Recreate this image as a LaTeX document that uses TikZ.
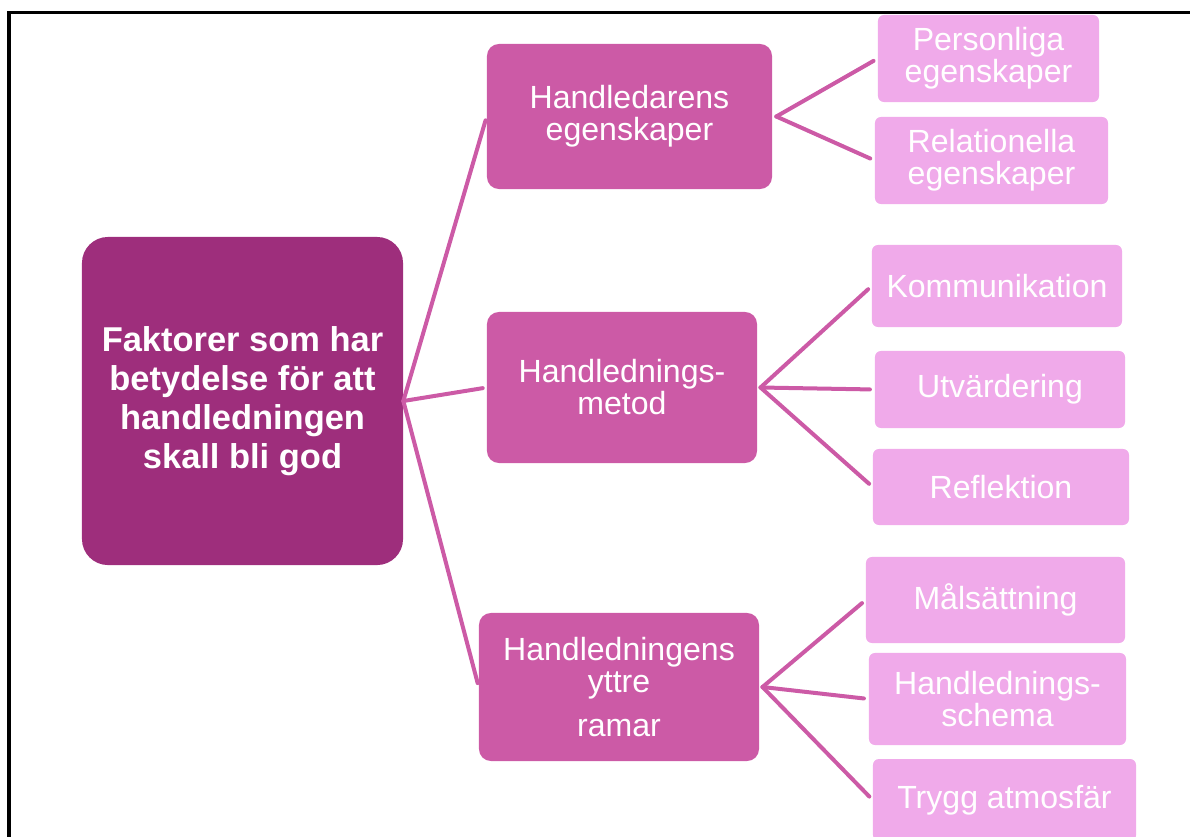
\documentclass[tikz,border=0pt]{standalone}
\usepackage{fontspec}
\setmainfont{Liberation Sans}
\usetikzlibrary{positioning}
\definecolor{rootplum}{HTML}{9E2E7C}
\definecolor{midpink}{HTML}{CC5AA6}
\definecolor{leafpink}{HTML}{F0AAEA}
\tikzset{
  rootbox/.style={rectangle, rounded corners=0.65cm, fill=rootplum, draw=none,
                  align=center, text=white, inner sep=0pt,
                  font=\fontsize{24.5pt}{27.7pt}\selectfont\bfseries},
  midbox/.style={rectangle, rounded corners=0.3cm, fill=midpink, draw=none,
                 align=center, text=white, inner sep=0pt,
                 font=\fontsize{22.8pt}{22.8pt}\selectfont},
  leafbox/.style={rectangle, rounded corners=0.15cm, fill=leafpink, draw=none,
                  align=center, text=white, inner sep=0pt,
                  font=\fontsize{22.8pt}{22.8pt}\selectfont},
  link/.style={draw=midpink, line width=0.1cm, line cap=round, shorten >=#1},
  link/.default=0.12cm,
}

\begin{document}
\begin{tikzpicture}[x=0.025cm, y=-0.025cm]
  \useasboundingbox (0,0) rectangle (1190,836);
  \clip (0,0) rectangle (1190,836);
  % frame (only top and left edges show)
  \draw[line width=0.075cm] (1200,12) -- (9,12) -- (9,850);

  % root
  \node[rootbox, minimum width=8.025cm, minimum height=8.2cm] (root) at (242.5,401)
    {Faktorer som har\\betydelse för att\\handledningen\\skall bli god};

  % middle level
  \node[midbox, minimum width=7.125cm, minimum height=3.625cm] (egen) at (629.5,116.5)
    {Handledarens\\egenskaper};
  \node[midbox, minimum width=6.75cm, minimum height=3.775cm] (metod) at (622,387.5)
    {Handlednings-\\metod};
  \node[midbox, minimum width=7cm, minimum height=3.7cm] (ramar) at (619,687)
    {Handledningens\\yttre\\[9pt]ramar};

  % leaves
  \node[leafbox, minimum width=5.525cm, minimum height=2.175cm] (pers) at (988.5,58.5)
    {Personliga\\egenskaper};
  \node[leafbox, minimum width=5.825cm, minimum height=2.175cm] (rel) at (991.5,160.5)
    {Relationella\\egenskaper};
  \node[leafbox, minimum width=6.25cm, minimum height=2.05cm] (komm) at (997,286)
    {Kommunikation};
  \node[leafbox, minimum width=6.25cm, minimum height=1.925cm] (utv) at (1000,389.5)
    {Utvärdering};
  \node[leafbox, minimum width=6.4cm, minimum height=1.9cm] (refl) at (1001,487)
    {Reflektion};
  \node[leafbox, minimum width=6.475cm, minimum height=2.15cm] (mal) at (995.5,600)
    {Målsättning};
  \node[leafbox, minimum width=6.425cm, minimum height=2.3cm] (schema) at (997.5,699)
    {Handlednings-\\schema};
  \node[leafbox, minimum width=6.575cm, minimum height=2.05cm] (trygg) at (1004.5,800)
    {Trygg atmosfär};

  % connectors
  \draw[link=0.1cm] (root.east) -- (egen.west);
  \draw[link=0.1cm] (root.east) -- (metod.west);
  \draw[link=0.1cm] (root.east) -- (ramar.west);
  \draw[link] ([xshift=0.1cm]egen.east) -- (pers.west);
  \draw[link] ([xshift=0.1cm]egen.east) -- (rel.west);
  \draw[link] ([xshift=0.08cm]metod.east) -- (komm.west);
  \draw[link] ([xshift=0.08cm]metod.east) -- (utv.west);
  \draw[link] ([xshift=0.08cm]metod.east) -- (refl.west);
  \draw[link] ([xshift=0.08cm]ramar.east) -- (mal.west);
  \draw[link] ([xshift=0.08cm]ramar.east) -- (schema.west);
  \draw[link] ([xshift=0.08cm]ramar.east) -- (trygg.west);
\end{tikzpicture}
\end{document}
